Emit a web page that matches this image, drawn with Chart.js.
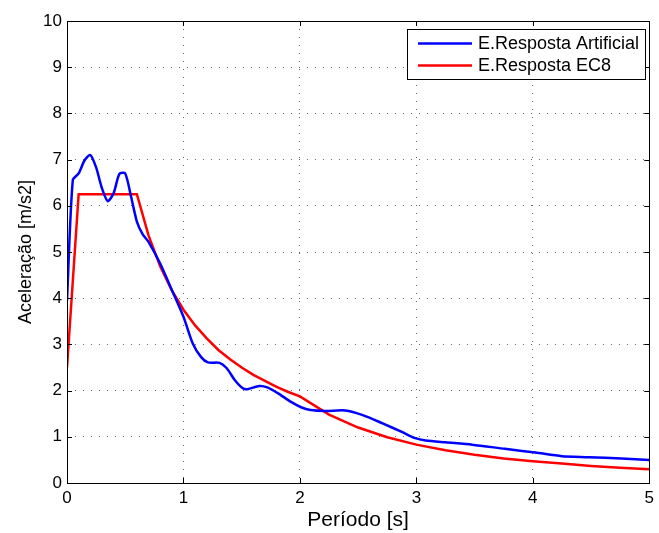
<!DOCTYPE html>
<html>
<head>
<meta charset="utf-8">
<script src="https://cdn.jsdelivr.net/npm/chart.js@4/dist/chart.umd.min.js"></script>
<style>
  body { margin: 0; background: #fff; }
  #wrap { width: 659px; height: 533px; }
</style>
</head>
<body>
<div id="wrap"><canvas id="myChart" width="659" height="533"></canvas></div>
<script>
// Periodo (s) e aceleracao (m/s2)
const artT = [0, 0.05, 0.1, 0.15, 0.2, 0.25, 0.3, 0.35, 0.4, 0.45, 0.5, 0.55, 0.6, 0.65, 0.7, 0.8, 0.9, 1.0, 1.08, 1.15, 1.21, 1.31, 1.37, 1.44, 1.51, 1.55, 1.65, 1.72, 1.82, 1.92, 2.01, 2.09, 2.22, 2.39, 2.54, 2.71, 2.88, 2.99, 3.08, 3.25, 3.48, 3.76, 4.02, 4.25, 4.48, 4.76, 5.0];
const artA = [3.95, 6.56, 6.70, 6.98, 7.10, 6.83, 6.38, 6.10, 6.27, 6.69, 6.70, 6.20, 5.66, 5.38, 5.22, 4.75, 4.18, 3.60, 3.02, 2.73, 2.61, 2.60, 2.49, 2.23, 2.05, 2.03, 2.10, 2.07, 1.93, 1.76, 1.64, 1.58, 1.56, 1.57, 1.47, 1.29, 1.10, 0.97, 0.92, 0.88, 0.83, 0.74, 0.66, 0.58, 0.56, 0.53, 0.50];

const ec8T = [0, 0.1, 0.6, 0.7, 0.8, 0.9, 1.0, 1.1, 1.2, 1.3, 1.4, 1.5, 1.6, 1.7, 1.8, 1.9, 2.0, 2.25, 2.5, 2.75, 3.0, 3.25, 3.5, 3.75, 4.0, 4.25, 4.5, 4.75, 5.0];
const ec8A = [2.5, 6.25, 6.25, 5.36, 4.69, 4.17, 3.75, 3.41, 3.13, 2.88, 2.68, 2.50, 2.34, 2.21, 2.08, 1.97, 1.875, 1.48, 1.20, 0.99, 0.83, 0.71, 0.61, 0.53, 0.47, 0.42, 0.37, 0.33, 0.30];

const xTicks = [0, 1, 2, 3, 4, 5];
const yTicks = [0, 1, 2, 3, 4, 5, 6, 7, 8, 9, 10];

const seriesNames = ['E.Resposta Artificial', 'E.Resposta EC8'];
const seriesColors = ['#0000ff', '#ff0000'];

const FONT = 'Liberation Sans, Arial, Helvetica, sans-serif';

function toPoints(xs, ys) {
    return xs.map((x, i) => ({ x: x, y: ys[i] }));
}

// caixa, marcas para dentro e legenda estilo MATLAB
const matlabBox = {
    id: 'matlabBox',
    afterDatasetsDraw(chart) {
        const ctx = chart.ctx;
        const a = chart.chartArea;
        const xs = chart.scales.x, ys = chart.scales.y;
        ctx.save();
        ctx.strokeStyle = '#000';
        ctx.lineWidth = 1;
        ctx.setLineDash([]);
        ctx.beginPath();
        xTicks.forEach(v => {
            const px = Math.round(xs.getPixelForValue(v)) + 0.5;
            ctx.moveTo(px, a.bottom); ctx.lineTo(px, a.bottom - 5);
            ctx.moveTo(px, a.top); ctx.lineTo(px, a.top + 5);
        });
        yTicks.forEach(v => {
            const py = Math.round(ys.getPixelForValue(v)) + 0.5;
            ctx.moveTo(a.left, py); ctx.lineTo(a.left + 5, py);
            ctx.moveTo(a.right, py); ctx.lineTo(a.right - 5, py);
        });
        ctx.stroke();
        ctx.strokeRect(Math.round(a.left) + 0.5, Math.round(a.top) + 0.5,
            Math.round(a.right - a.left), Math.round(a.bottom - a.top));

        // legenda
        const lx = 407, ly = 29, lw = 238, lh = 50;
        ctx.fillStyle = '#fff';
        ctx.fillRect(lx, ly, lw, lh);
        ctx.strokeRect(lx + 0.5, ly + 0.5, lw, lh);
        ctx.font = '18px ' + FONT;
        ctx.textBaseline = 'middle';
        chart.data.datasets.forEach((ds, i) => {
            const yy = ly + 14.5 + i * 22;
            ctx.strokeStyle = ds.borderColor;
            ctx.lineWidth = 2.5;
            ctx.beginPath();
            ctx.moveTo(lx + 11, yy); ctx.lineTo(lx + 65, yy);
            ctx.stroke();
            ctx.fillStyle = '#000';
            ctx.fillText(ds.label, lx + 71, yy + 1);
        });
        ctx.restore();
    }
};

const ctx = document.getElementById('myChart').getContext('2d');
const myChart = new Chart(ctx, {
    type: 'line',
    data: {
        datasets: [
            {
                label: seriesNames[0],
                data: toPoints(artT, artA),
                borderColor: seriesColors[0],
                borderWidth: 2.5,
                pointRadius: 0,
                tension: 0.25,
                fill: false
            },
            {
                label: seriesNames[1],
                data: toPoints(ec8T, ec8A),
                borderColor: seriesColors[1],
                borderWidth: 2.5,
                pointRadius: 0,
                tension: 0,
                fill: false
            }
        ]
    },
    options: {
        responsive: false,
        animation: false,
        layout: { padding: { left: 0, top: 21, right: 8, bottom: 0 } },
        plugins: {
            legend: { display: false },
            tooltip: { enabled: false }
        },
        scales: {
            x: {
                type: 'linear',
                min: 0,
                max: 5,
                afterBuildTicks: s => { s.ticks = xTicks.map(v => ({ value: v })); },
                afterFit: s => { s.height = 50; },
                grid: { color: '#666', lineWidth: 1, drawTicks: false },
                border: { display: false, dash: [1, 7] },
                ticks: { color: '#000', font: { family: FONT, size: 17 }, padding: 5, maxRotation: 0 },
                title: {
                    display: true,
                    text: 'Período [s]',
                    color: '#000',
                    font: { family: FONT, size: 21 },
                    padding: { top: 3, bottom: 0 }
                }
            },
            y: {
                type: 'linear',
                min: 0,
                max: 10,
                afterBuildTicks: s => { s.ticks = yTicks.map(v => ({ value: v })); },
                afterFit: s => { s.width = 67; },
                grid: { color: '#666', lineWidth: 1, drawTicks: false },
                border: { display: false, dash: [1, 7] },
                ticks: { color: '#000', font: { family: FONT, size: 17 }, padding: 5 },
                title: {
                    display: true,
                    text: 'Aceleração [m/s2]',
                    color: '#000',
                    font: { family: FONT, size: 18 },
                    padding: { top: 15, bottom: 0 }
                }
            }
        }
    },
    plugins: [matlabBox]
});
</script>
</body>
</html>
